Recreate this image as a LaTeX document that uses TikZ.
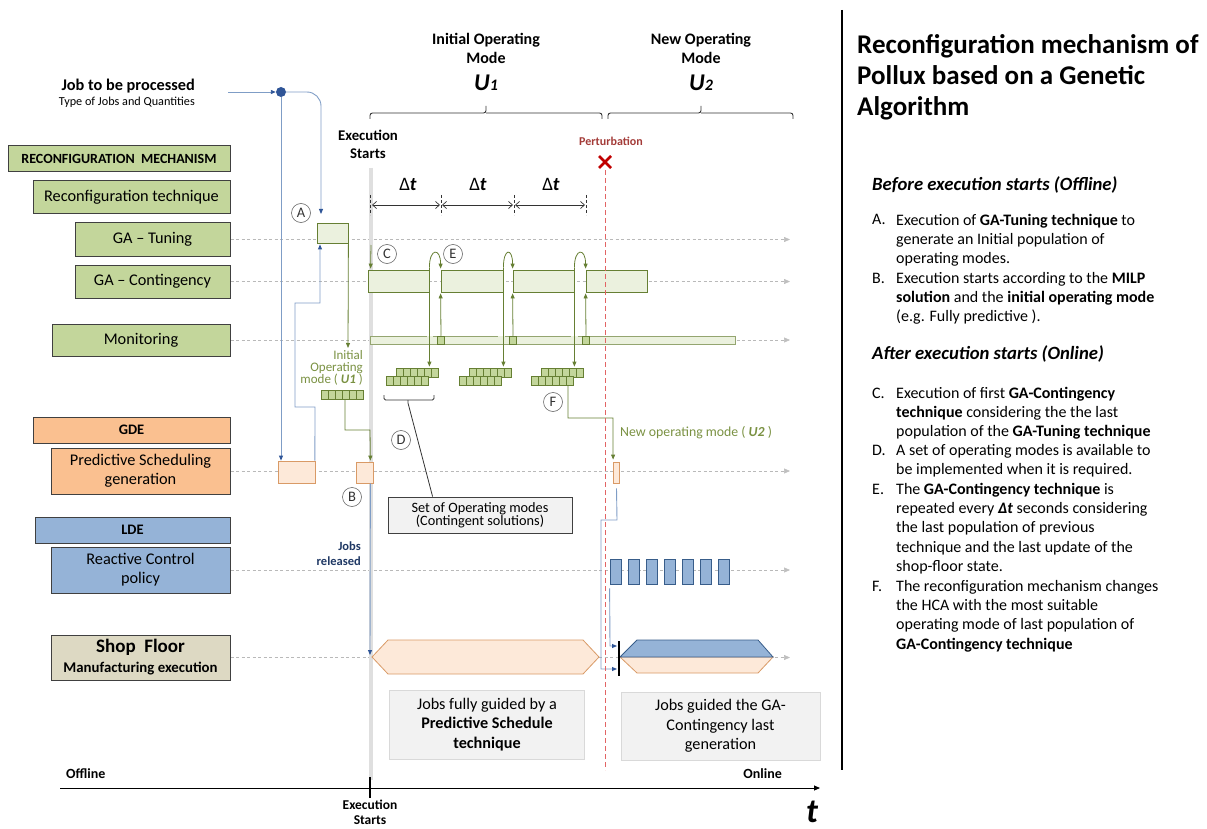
\documentclass[tikz,border=0pt]{standalone}
\usepackage{fontspec}
\setmainfont{Carlito}
\usetikzlibrary{arrows.meta,calc}
\definecolor{gfill}{HTML}{C3D69B}
\definecolor{glight}{HTML}{EBF1DE}
\definecolor{olive}{HTML}{667F33}
\definecolor{olivetx}{HTML}{7A9142}
\definecolor{ofill}{HTML}{FAC090}
\definecolor{pfill}{HTML}{FDE9D9}
\definecolor{pbord}{HTML}{D99A66}
\definecolor{bfill}{HTML}{95B3D7}
\definecolor{bbord}{HTML}{385D8A}
\definecolor{sfill}{HTML}{DDD9C3}
\definecolor{bline}{HTML}{7F9DC6}
\definecolor{btip}{HTML}{2F5597}
\definecolor{navy}{HTML}{1F3864}
\definecolor{gbox}{HTML}{F2F2F2}
\definecolor{bordc}{HTML}{404040}
\definecolor{pert}{HTML}{A33B38}
\definecolor{xred}{HTML}{C00000}
\definecolor{pline}{HTML}{E26464}
\pgfdeclarelayer{bg}
\pgfsetlayers{bg,main}
\begin{document}
\begin{tikzpicture}[x=1pt,y=-1pt,
  lbox/.style={draw=bordc, line width=1pt, inner sep=0pt, align=center, font=\fontsize{16.3}{19}\selectfont},
  tbox/.style={draw=olive, fill=glight, line width=0.8pt, inner sep=0pt},
  obox/.style={draw=pbord, fill=pfill, line width=0.8pt, inner sep=0pt},
  rbox/.style={draw=bbord, fill=bfill, line width=0.8pt, inner sep=0pt, minimum width=11pt, minimum height=25pt},
  guide/.style={draw=gray!55, dash pattern=on 3pt off 2.5pt, line width=0.6pt, -{Triangle[length=6pt,width=5pt,color=gray!50]}},
  oarr/.style={draw=olive, line width=0.8pt, -{Triangle[length=5pt,width=4pt]}},
  oline/.style={draw=olive, line width=0.8pt},
  barr/.style={draw=bline, line width=0.9pt, -{Triangle[length=5pt,width=4pt,color=btip]}},
  circ/.style={circle, draw=gray!80!black, line width=0.6pt, text=gray!40!black, inner sep=0pt, minimum size=19pt, font=\fontsize{14.5}{14}\selectfont},
  sq/.style={draw=olive, fill=gfill, line width=0.5pt},
  gnote/.style={draw=gray!30, fill=gbox, line width=0.8pt, align=center, inner sep=0pt},
  dtick/.style={draw=black!80, densely dashed, line width=0.6pt},
  dtarr/.style={draw=black!80, line width=0.7pt, {Straight Barb[length=4pt,width=7pt]}-{Straight Barb[length=4pt,width=7pt]}},
  brace/.style={draw=black!80, line width=0.9pt, rounded corners=2.5pt},
  listtx/.style={anchor=north west, align=left, inner sep=0pt, font=\fontsize{16}{19.3}\selectfont},
  listlt/.style={anchor=base west, inner sep=0pt, font=\fontsize{16}{19.3}\selectfont},
]
\useasboundingbox (0,0) rectangle (1207,829);

% ---------- left column boxes
\node[lbox, fill=gfill, minimum width=222pt, minimum height=26pt, font=\bfseries\fontsize{14}{16}\selectfont] (rm) at (119,159) {RECONFIGURATION\ \ MECHANISM};
\node[lbox, fill=gfill, minimum width=197pt, minimum height=33pt] (rt) at (131.5,197.5) {Reconfiguration technique};
\node[lbox, fill=gfill, minimum width=155pt, minimum height=33pt] (gt) at (152.5,239.5) {GA – Tuning};
\node[lbox, fill=gfill, minimum width=155pt, minimum height=33pt] (gc) at (152.5,281.5) {GA – Contingency};
\node[lbox, fill=gfill, minimum width=178pt, minimum height=32pt] (mo) at (141,340) {Monitoring};
\node[lbox, fill=ofill, minimum width=197pt, minimum height=26pt, font=\bfseries\fontsize{14.5}{16}\selectfont] (gde) at (131.5,430) {GDE};
\node[lbox, fill=ofill, minimum width=179pt, minimum height=46pt] (psg) at (140.5,471) {Predictive Scheduling\\generation};
\node[lbox, fill=bfill, minimum width=195pt, minimum height=26pt, font=\bfseries\fontsize{14.5}{16}\selectfont] (lde) at (132.5,530) {LDE};
\node[lbox, fill=bfill, minimum width=179pt, minimum height=46pt] (rcp) at (140.5,570) {Reactive Control\\policy};
\node[lbox, fill=sfill, minimum width=179pt, minimum height=45pt, font=\bfseries\fontsize{14.8}{20}\selectfont] (sf) at (140.5,657.5) {{\fontsize{19}{20}\selectfont Shop\ \ Floor}\\Manufacturing execution};

% ---------- job input
\node[anchor=east, inner sep=0pt, font=\bfseries\fontsize{16.3}{17}\selectfont] (job) at (195,86) {Job to be processed};
\node[anchor=east, inner sep=0pt, font=\fontsize{12.2}{13}\selectfont] (jobsub) at (195,102) {Type of Jobs and Quantities};
\coordinate (jobout) at (228,92);
\node[circle, fill=btip, inner sep=0pt, minimum size=10pt] (dot) at (281,92) {};

% ---------- small process boxes
\node[tbox, minimum width=31pt, minimum height=20pt] (ta) at (332.5,233) {};
\node[tbox, minimum width=61pt, minimum height=22pt] (c1) at (398.5,281) {};
\node[tbox, minimum width=62pt, minimum height=22pt] (c2) at (472,281) {};
\node[tbox, minimum width=61pt, minimum height=22pt] (c3) at (543.5,281) {};
\node[tbox, minimum width=61pt, minimum height=22pt] (c4) at (616.5,281) {};
\node[obox, minimum width=37pt, minimum height=22pt] (pb1) at (297,472) {};
\node[obox, minimum width=17pt, minimum height=21pt] (pbB) at (364.5,472.5) {};
\node[obox, minimum width=6pt, minimum height=21pt] (po2) at (616.5,472.5) {};
\foreach \i in {0,...,6} \node[rbox] (r\i) at (615.5+18*\i,571.5) {};

% ---------- background lines
\begin{pgfonlayer}{bg}
\foreach \n in {gt,gc,mo,psg,rcp,sf} \draw[guide] (\n.east) -- (790,0 |- \n.east);
\draw[gray!25, line width=4pt] (371,168) -- (371,780);
\end{pgfonlayer}

% ---------- monitoring bar
\fill[glight] (370,336) rectangle (735,344);
\draw[draw=olive!70, line width=0.7pt] (370,336) -- (370,344) -- (735,344) -- (735,336);
\draw[draw=olive!70, line width=0.7pt] (370,336) -- (427,336) (433,336) -- (498,336) (505,336) -- (571,336) (578,336) -- (735,336);
\foreach \xx [count=\k] in {441,513,586} \node[sq, inner sep=0pt, minimum width=7pt, minimum height=8pt] (ms\k) at (\xx,340) {};

% ---------- populations
\foreach \bx [count=\k] in {386,459,531} {
  \foreach \i in {0,...,5} \draw[sq] (\bx+10+7*\i,368) rectangle ++(7,9);
  \foreach \i in {0,...,5} \draw[sq] (\bx+7*\i,376) rectangle ++(7,9);
}
\foreach \i in {0,...,5} \draw[sq] (321+7*\i,390) rectangle ++(7,9);
\coordinate (u1sq) at (345,399);

% ---------- blue connectors
\draw[barr] (jobout) -- (dot.west);
\draw[barr, rounded corners=14pt] (dot.east) -- (321,92) -- (321,214);
\draw[barr] (dot.south) -- (dot.south |- pb1.north);
\draw[barr] ($(pb1.north east)+(-1,0)$) -- (315,407) -- (295,407) -- (295,303) -- (320,303) -- ($(ta.south)+(-12.5,1)$);
\draw[barr] ($(pbB.south east)+(-3,0)$) -- (370,655);
\draw[barr] ($(po2.south)+(0,5)$) -- (617,520) -- (601,520) -- (601,669) -- (617,669);
\draw[barr] ($(r0.south west)+(0,4)$) -- (610,646) -- (617,646);

% ---------- olive connectors
\draw[oarr] (ta.south east) -- (348,348);
\draw[oarr] (u1sq) -- (345,430) -- (370,430) -- ($(pbB.north east)+(-3,-1)$);
\draw[oarr] (371,245) -- ($(c1.north west)+(3,-1)$);
\foreach \a/\b/\m in {c1/c2/ms1, c2/c3/ms2, c3/c4/ms3} {
  \draw[oarr] ($(\a.north east)+(0,-2)$) .. controls ($(\a.north east)+(0,-22)$) and ($(\b.north west)+(0,-22)$) .. ($(\b.north west)+(0,-1)$);
  \draw[oarr] ($(\a.north east)+(0,-2)$) -- ($(\a.north east)+(0,97)$);
  \draw[oarr] (\m.north) -- ($(\b.south west)+(0,1)$);
}
\draw[oarr] (568,385) -- (568,418) -- (613,418) -- ($(po2.north west)+(0,-2)$);

% ---------- shop floor hexagons
\draw[draw=pbord, fill=pfill, line width=0.8pt] (372,657) -- (388,640) -- (583,640) -- (599,657) -- (583,674) -- (388,674) -- cycle;
\draw[draw=pbord, fill=pfill, line width=0.8pt] (620,657) -- (637,673) -- (758,673) -- (773,657) -- cycle;
\draw[draw=bbord, fill=bfill, line width=0.8pt] (620,657) -- (637,640) -- (758,640) -- (773,657) -- cycle;
\draw[line width=2.5pt] (619,641) -- (619,676);

% ---------- circled letters
\node[circ] (cA) at (301,213) {A};
\node[circ] (cB) at (352,497) {B};
\node[circ] (cC) at (387,254) {C};
\node[circ] (cE) at (453,254) {E};
\node[circ] (cD) at (401,440) {D};
\node[circ] (cF) at (553,402) {F};

% ---------- labels
\node[align=right, anchor=north east, inner sep=0pt, text=olivetx, font=\fontsize{13}{12}\selectfont] (u1lab) at (363,350) {Initial\\Operating\\mode ( \textbf{\textit{U1}} )};
\node[anchor=west, inner sep=0pt, text=olivetx, font=\fontsize{13.8}{15}\selectfont] (u2lab) at (620,433) {New operating mode ( \textbf{\textit{U2}} )};
\node[align=right, anchor=east, inner sep=0pt, text=navy, font=\bfseries\fontsize{12.5}{15}\selectfont] (jr) at (361,553.5) {Jobs\\released};
\node[align=center, inner sep=0pt, font=\bfseries\fontsize{14.8}{18}\selectfont] (exs) at (368,144) {Execution\\Starts};

% top modes
\node[align=center, inner sep=0pt, font=\bfseries\fontsize{16}{19}\selectfont] (m1) at (486,48.5) {Initial Operating\\Mode};
\node[inner sep=0pt, font=\bfseries\itshape\fontsize{24}{24}\selectfont] (u1) at (486,83) {U{\fontsize{16}{16}\selectfont 1}};
\node[align=center, inner sep=0pt, font=\bfseries\fontsize{16}{19}\selectfont] (m2) at (701,48.5) {New Operating\\Mode};
\node[inner sep=0pt, font=\bfseries\itshape\fontsize{24}{24}\selectfont] (u2) at (701,83) {U{\fontsize{16}{16}\selectfont 2}};
\draw[brace] (370,119) -- (370,113) -- (486,113) -- (486,106);
\draw[brace] (486,113) -- (602,113) -- (602,119);
\draw[brace] (608,119) -- (608,113) -- (701,113) -- (701,106);
\draw[brace] (701,113) -- (793,113) -- (793,119);

% delta t
\foreach \xx in {370,441,514,586} \draw[dtick] (\xx,195) -- (\xx,215);
\coordinate (d0) at (372,205); \coordinate (d1) at (440,205); \coordinate (d1b) at (442,205);
\coordinate (d2) at (513,205); \coordinate (d2b) at (515,205); \coordinate (d3) at (585,205);
\draw[dtarr] (d0) -- (d1);
\draw[dtarr] (d1b) -- (d2);
\draw[dtarr] (d2b) -- (d3);
\foreach \xx in {408,478,551} \node[inner sep=0pt, font=\fontsize{19}{19}\selectfont] at (\xx,184) {Δ\textbf{\textit{t}}};

% perturbation
\node[inner sep=0pt, text=pert, font=\bfseries\fontsize{12}{12}\selectfont] (pt) at (611,141) {Perturbation};
\coordinate (px) at (605,162);
\draw[xred, line width=2.6pt] ($(px)+(-6,-6)$) -- ($(px)+(6,6)$) ($(px)+(-6,6)$) -- ($(px)+(6,-6)$);
\draw[pline, dash pattern=on 5pt off 3pt, line width=0.9pt] ($(px)+(0,8)$) -- (605,770);

% set of operating modes
\node[draw=bordc, fill=gbox, line width=0.8pt, align=center, inner sep=0pt, minimum width=184pt, minimum height=36pt, font=\fontsize{14.3}{13}\selectfont] (sb) at (480,515) {Set of Operating modes\\(Contingent solutions)};
\draw[brace, rounded corners=1.5pt] (384,395) -- (384,400) -- (434,400) -- (434,395);
\draw[black!80, line width=0.8pt] (408,400) -- (408,403) -- ($(sb.north west)+(45,0)$);

% gray notes
\node[gnote, minimum width=195pt, minimum height=69pt, font=\fontsize{16.2}{19.5}\selectfont] (n1) at (487,724.5) {Jobs fully guided by a\\\textbf{Predictive Schedule}\\\textbf{technique}};
\node[gnote, minimum width=199pt, minimum height=68pt, font=\fontsize{16.2}{19.5}\selectfont] (n2) at (720.5,726) {Jobs guided the GA-\\Contingency last\\generation};

% time axis
\coordinate (ax0) at (60,788); \coordinate (ax1) at (820,788);
\draw[line width=0.9pt, -{Triangle[length=6pt,width=5pt]}] (ax0) -- (ax1);
\draw[line width=2.2pt] (370,777) -- (370,798);
\node[anchor=west, inner sep=0pt, font=\bfseries\fontsize{14}{14}\selectfont] (off) at (66,774) {Offline};
\node[anchor=east, inner sep=0pt, font=\bfseries\fontsize{14}{14}\selectfont] (on) at (782,774) {Online};
\node[inner sep=0pt, font=\bfseries\itshape\fontsize{34}{34}\selectfont] (tt) at (812,812) {t};
\node[align=center, anchor=north, inner sep=0pt, font=\bfseries\fontsize{13.5}{14.5}\selectfont] (exs2) at (370,800) {Execution\\Starts};

% ---------- right column
\draw[line width=2pt] (842,10) -- (842,770);
\foreach \yy/\tx in {54/{Reconfiguration mechanism of}, 85/{Pollux based on a Genetic}, 116/{Algorithm}}
  \node[anchor=base west, inner sep=0pt, font=\bfseries\fontsize{27}{30}\selectfont] at (857,\yy) {\tx};
\node[anchor=base west, inner sep=0pt, font=\bfseries\itshape\fontsize{18.7}{19}\selectfont] (h1) at (872,191) {Before execution starts (Offline)};
\node[anchor=base west, inner sep=0pt, font=\bfseries\itshape\fontsize{18.7}{19}\selectfont] (h2) at (872,359) {After execution starts (Online)};
\foreach \yy/\lt in {225/A., 283/B., 398/C., 455/D., 494/E., 591/F.}
  \node[listlt] at (872,\yy) {\lt};
\node[listtx] (tA) at (896,225-13.5) {\strut Execution of \textbf{GA-Tuning technique} to\\generate an Initial population of\\operating modes.};
\node[listtx] (tB) at (896,283-13.5) {\strut Execution starts according to the \textbf{MILP}\\\textbf{solution} and the \textbf{initial operating mode}\\(e.g. Fully predictive ).};
\node[listtx] (tC) at (896,398-13.5) {\strut Execution of first \textbf{GA-Contingency}\\\textbf{technique} considering the the last\\population of the \textbf{GA-Tuning technique}};
\node[listtx] (tD) at (896,455-13.5) {\strut A set of operating modes is available to\\be implemented when it is required.};
\node[listtx] (tE) at (896,494-13.5) {\strut The \textbf{GA-Contingency technique} is\\repeated every \textbf{\textit{Δt}} seconds considering\\the last population of previous\\technique and the last update of the\\shop-floor state.};
\node[listtx] (tF) at (896,591-13.5) {\strut The reconfiguration mechanism changes\\the HCA with the most suitable\\operating mode of last population of\\\textbf{GA-Contingency technique}};
\end{tikzpicture}
\end{document}
